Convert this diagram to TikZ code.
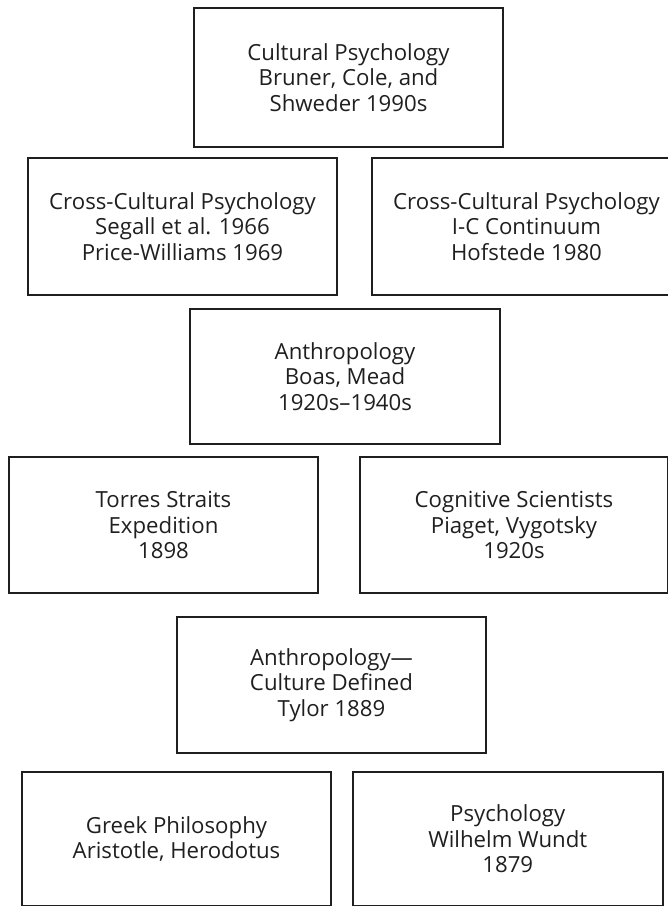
\documentclass[tikz,border=0pt]{standalone}
\usepackage{fontspec}
\setmainfont{Open Sans}
\begin{document}
\begin{tikzpicture}[x=1pt,y=-1pt,
  box/.style={draw=black!88, line width=2pt, minimum width=309pt, minimum height=136pt,
    align=center, inner sep=0pt, font=\fontsize{22.2}{25.5}\selectfont, text=black!88}]
\useasboundingbox (0,0) rectangle (668,906);
\clip (0,0) rectangle (668,906);
\node[box, minimum height=139pt] (cultural) at (348.5,77.5) {Cultural Psychology\\Bruner, Cole, and\\Shweder 1990s};
\node[box, minimum height=137pt] (crossA) at (182.5,226.5) {Cross-Cultural Psychology\\Segall et al. 1966\\Price-Williams 1969};
\node[box, minimum height=137pt] (crossB) at (526.5,226.5) {Cross-Cultural Psychology\\I-C Continuum\\Hofstede 1980};
\node[box, minimum width=310pt, minimum height=135pt] (anthro) at (345,376.5) {Anthropology\\Boas, Mead\\1920s–1940s};
\node[box] (torres) at (163.5,525) {Torres Straits\\Expedition\\1898};
\node[box, minimum width=308pt] (cognitive) at (514,525) {Cognitive Scientists\\Piaget, Vygotsky\\1920s};
\node[box] (tylor) at (331.5,685) {Anthropology—\\Culture Defined\\Tylor 1889};
\node[box, minimum height=134pt] (greek) at (176.5,839) {Greek Philosophy\\Aristotle, Herodotus};
\node[box, minimum width=309.5pt, minimum height=134pt] (wundt) at (507.75,839) {Psychology\\Wilhelm Wundt\\1879};
\end{tikzpicture}
\end{document}
